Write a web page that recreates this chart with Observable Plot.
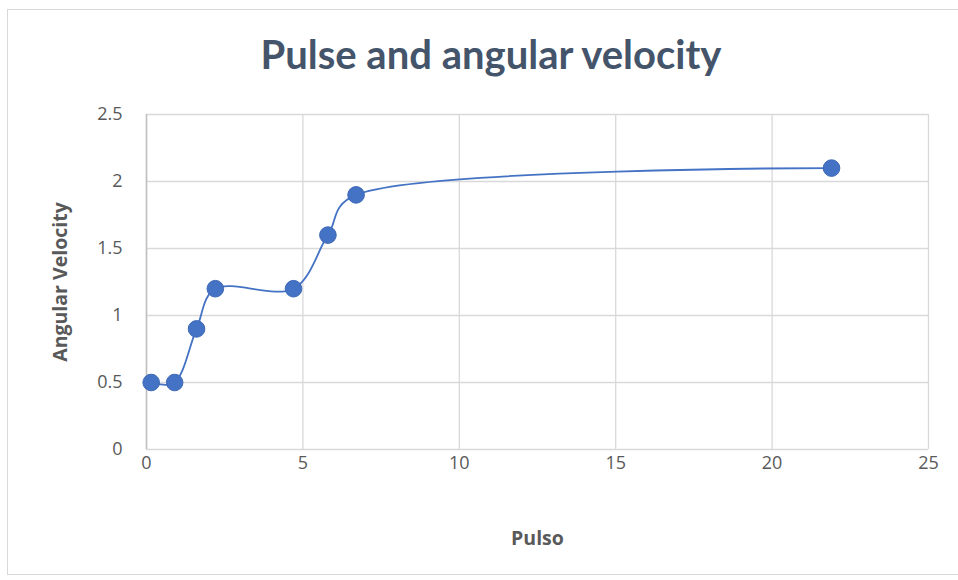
<!DOCTYPE html>
<html>
<head>
<meta charset="utf-8">
<script src="https://cdn.jsdelivr.net/npm/d3@7"></script>
<script src="https://cdn.jsdelivr.net/npm/@observablehq/plot@0.6"></script>
<style>
  html, body { margin: 0; padding: 0; background: #fff; }
  #wrap { position: relative; width: 958px; height: 580px; overflow: hidden; }
  #frame { position: absolute; left: 7px; top: 9px; width: 960px; height: 566px; border: 1px solid #d9d9d9; box-sizing: border-box; }
  #title { position: absolute; left: 12px; top: -2px; width: 958px; height: 90px; text-align: center; font-family: Lato, "Open Sans", sans-serif; font-weight: bold; font-size: 40px; line-height: 112px; color: #44546a; }
  #chart { position: absolute; left: 0; top: 90px; }
</style>
</head>
<body>
<div id="wrap">
  <div id="frame"></div>
  <div id="title">Pulse and angular velocity</div>
  <div id="chart"></div>
</div>
<script>
const pulso = [0.15, 0.9, 1.6, 2.2, 4.7, 5.8, 6.7, 21.9];
const velocity = [0.5, 0.5, 0.9, 1.2, 1.2, 1.6, 1.9, 2.1];
const xTicks = [0, 5, 10, 15, 20, 25];
const yTicks = [0, 0.5, 1, 1.5, 2, 2.5];
const xLabel = "Pulso";
const yLabel = "Angular Velocity";

const data = pulso.map((p, i) => ({x: p, y: velocity[i]}));
const blue = "#4472c4";
const txt = "#595959";

const chart = Plot.plot({
  width: 958,
  height: 490,
  marginLeft: 146,
  marginRight: 30,
  marginTop: 24,
  marginBottom: 131,
  style: {fontFamily: "'Open Sans', sans-serif", background: "transparent"},
  x: {domain: [0, 25]},
  y: {domain: [0, 2.5]},
  marks: [
    Plot.gridX(xTicks, {stroke: "#d9d9d9", strokeOpacity: 1, strokeWidth: 1.3}),
    Plot.gridY(yTicks, {stroke: "#d9d9d9", strokeOpacity: 1, strokeWidth: 1.3}),
    Plot.ruleX([0], {stroke: "#bfbfbf", strokeWidth: 1.5}),
    Plot.axisX(xTicks, {tickSize: 0, tickPadding: 7, fontSize: 18, fill: txt, label: null, tickFormat: d => String(d)}),
    Plot.axisY(yTicks, {tickSize: 0, tickPadding: 24, fontSize: 18, fill: txt, label: null, tickFormat: d => String(d)}),
    Plot.line(data, {x: "x", y: "y", curve: "catmull-rom", tension: 0.4, stroke: blue, strokeWidth: 1.8}),
    Plot.dot(data, {x: "x", y: "y", r: 8.3, fill: blue, stroke: "#3d67b5", strokeWidth: 1}),
    Plot.text([xLabel], {frameAnchor: "bottom", dy: 89, lineAnchor: "middle", textAnchor: "middle", fontSize: 19.5, fontWeight: "bold", fill: txt}),
    Plot.text([yLabel], {frameAnchor: "left", dx: -86, rotate: -90, lineAnchor: "middle", textAnchor: "middle", fontSize: 19.5, fontWeight: "bold", fill: txt})
  ]
});
document.getElementById("chart").appendChild(chart);
</script>
</body>
</html>
